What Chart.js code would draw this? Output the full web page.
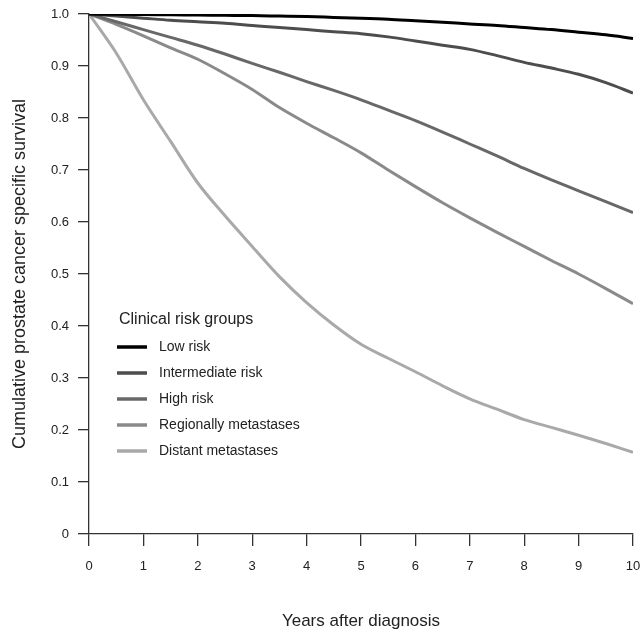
<!DOCTYPE html>
<html>
<head>
<meta charset="utf-8">
<script src="https://cdn.jsdelivr.net/npm/chart.js@4"></script>
<style>
  html, body { margin: 0; padding: 0; background: #fff; }
  #wrap { width: 641px; height: 634px; }
</style>
</head>
<body>
<div id="wrap"><canvas id="survivalChart" width="641" height="634"></canvas></div>
<script>
// follow-up time (years) and survival estimates per clinical risk group
const years = [0, 0.5, 1, 1.5, 2, 2.5, 3, 3.5, 4, 4.5, 5, 5.5, 6, 6.5, 7, 7.5, 8, 8.5, 9, 9.5, 10];
const lowRisk = [1.0, 0.9995, 0.999, 0.9985, 0.998, 0.9975, 0.997, 0.996, 0.995, 0.9935, 0.992, 0.990, 0.987, 0.984, 0.981, 0.978, 0.974, 0.970, 0.965, 0.960, 0.953];
const intermediateRisk = [1.0, 0.996, 0.992, 0.988, 0.985, 0.982, 0.978, 0.974, 0.970, 0.966, 0.962, 0.956, 0.948, 0.940, 0.932, 0.920, 0.907, 0.896, 0.884, 0.868, 0.848];
const highRisk = [1.0, 0.985, 0.970, 0.955, 0.940, 0.923, 0.905, 0.888, 0.870, 0.853, 0.835, 0.815, 0.795, 0.773, 0.750, 0.727, 0.703, 0.681, 0.660, 0.639, 0.618];
const regionalMets = [1.0, 0.980, 0.958, 0.935, 0.913, 0.885, 0.855, 0.820, 0.790, 0.762, 0.733, 0.700, 0.668, 0.637, 0.608, 0.580, 0.553, 0.526, 0.500, 0.472, 0.443];
const distantMets = [1.0, 0.925, 0.835, 0.755, 0.675, 0.612, 0.553, 0.495, 0.445, 0.402, 0.365, 0.338, 0.312, 0.285, 0.260, 0.240, 0.220, 0.205, 0.190, 0.174, 0.157];

const groupNames = ["Low risk", "Intermediate risk", "High risk", "Regionally metastases", "Distant metastases"];
const groupColors = ["#000000", "#4d4d4d", "#686868", "#8a8a8a", "#a9a9a9"];
const yTicks = [0, 0.1, 0.2, 0.3, 0.4, 0.5, 0.6, 0.7, 0.8, 0.9, 1.0];
const xTicks = [0, 1, 2, 3, 4, 5, 6, 7, 8, 9, 10];

const FONT = "'Liberation Sans', Arial, Helvetica, sans-serif";
const series = [lowRisk, intermediateRisk, highRisk, regionalMets, distantMets];

const datasets = series.map((vals, i) => ({
  label: groupNames[i],
  data: years.map((t, k) => ({ x: t, y: vals[k] })),
  borderColor: groupColors[i],
  borderWidth: 3,
  pointRadius: 0,
  fill: false,
  cubicInterpolationMode: "monotone",
}));

// legend drawn inside the plot, R style
const innerLegend = {
  id: "innerLegend",
  afterDraw(chart) {
    const ctx = chart.ctx;
    ctx.save();
    ctx.textBaseline = "middle";
    ctx.textAlign = "left";
    ctx.fillStyle = "#222";
    ctx.font = "16px " + FONT;
    ctx.fillText("Clinical risk groups", 119, 320);
    ctx.font = "14px " + FONT;
    chart.data.datasets.forEach((ds, i) => {
      const y = 347 + i * 26;
      ctx.strokeStyle = ds.borderColor;
      ctx.lineWidth = 3.5;
      ctx.beginPath();
      ctx.moveTo(117, y);
      ctx.lineTo(147, y);
      ctx.stroke();
      ctx.fillStyle = "#222";
      ctx.fillText(ds.label, 159, y);
    });
    ctx.restore();
  },
};

const ctx = document.getElementById("survivalChart").getContext("2d");
new Chart(ctx, {
  type: "line",
  data: { datasets: datasets },
  plugins: [innerLegend],
  options: {
    responsive: false,
    animation: false,
    layout: { padding: { top: 14, right: 8, left: 0, bottom: 0 } },
    plugins: {
      legend: { display: false },
      tooltip: { enabled: false },
    },
    scales: {
      x: {
        type: "linear",
        min: 0,
        max: 10,
        afterFit: (scale) => {
          scale.height = 100;
          scale.paddingLeft = 0;
          scale.paddingRight = 0;
        },
        afterBuildTicks: (scale) => { scale.ticks = xTicks.map((v) => ({ value: v })); },
        border: { display: true, color: "#333", width: 1.3 },
        grid: { drawOnChartArea: false, drawTicks: true, tickLength: 12, color: "#333", lineWidth: 1.3 },
        ticks: { color: "#222", padding: 13, maxRotation: 0, font: { family: FONT, size: 13 } },
        title: {
          display: true,
          text: "Years after diagnosis",
          color: "#222",
          font: { family: FONT, size: 17 },
          padding: { top: 4, bottom: 2 },
        },
      },
      y: {
        min: 0,
        max: 1,
        afterFit: (scale) => {
          scale.width = 89;
          scale.paddingTop = 0;
          scale.paddingBottom = 0;
        },
        afterBuildTicks: (scale) => { scale.ticks = yTicks.map((v) => ({ value: v })); },
        border: { display: true, color: "#333", width: 1.3 },
        grid: { drawOnChartArea: false, drawTicks: true, tickLength: 11, color: "#333", lineWidth: 1.3 },
        ticks: {
          color: "#222",
          padding: 9,
          font: { family: FONT, size: 13 },
          callback: (v) => (v === 0 ? "0" : v.toFixed(1)),
        },
        title: {
          display: true,
          text: "Cumulative prostate cancer specific survival",
          color: "#222",
          font: { family: FONT, size: 18 },
          padding: { top: 9, bottom: 4 },
        },
      },
    },
  },
});
</script>
</body>
</html>
